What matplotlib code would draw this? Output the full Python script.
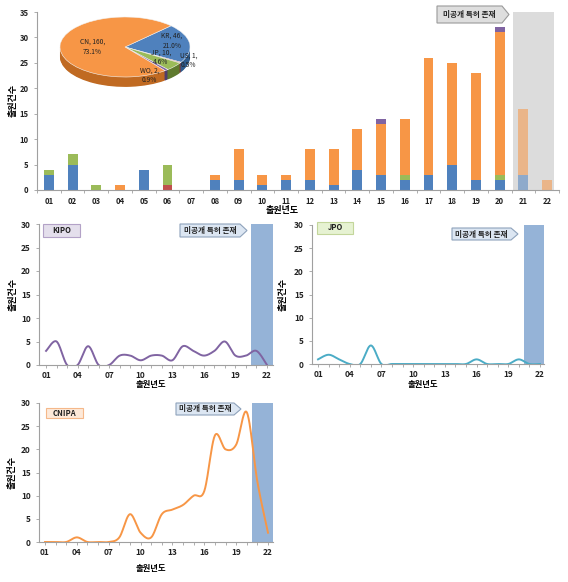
import numpy as np
import matplotlib.pyplot as plt
from matplotlib.patches import Polygon, Rectangle

plt.rcParams['font.family'] = ['Noto Sans CJK KR', 'DejaVu Sans']

# ── data ────────────────────────────────────────────────────────────────
years = ['01', '02', '03', '04', '05', '06', '07', '08', '09', '10', '11',
         '12', '13', '14', '15', '16', '17', '18', '19', '20', '21', '22']
kr = [3, 5, 0, 0, 4, 0, 0, 2, 2, 1, 2, 2, 1, 4, 3, 2, 3, 5, 2, 2, 3, 0]
us = [0, 0, 0, 0, 0, 1, 0, 0, 0, 0, 0, 0, 0, 0, 0, 0, 0, 0, 0, 0, 0, 0]
jp = [1, 2, 1, 0, 0, 4, 0, 0, 0, 0, 0, 0, 0, 0, 0, 1, 0, 0, 0, 1, 0, 0]
cn = [0, 0, 0, 1, 0, 0, 0, 1, 6, 2, 1, 6, 7, 8, 10, 11, 23, 20, 21, 28, 13, 2]
wo = [0, 0, 0, 0, 0, 0, 0, 0, 0, 0, 0, 0, 0, 0, 1, 0, 0, 0, 0, 1, 0, 0]

series = [('KR', kr, '#4f81bd'), ('US', us, '#c0504d'), ('JP', jp, '#9bbb59'),
          ('CN', cn, '#f79646'), ('WO', wo, '#8064a2')]

callout_text = '미공개 특허 존재'
W, H = 568, 582


def fx(px):
    return px / W


def fy(py):
    return 1 - py / H


fig = plt.figure(figsize=(W / 100, H / 100), dpi=100)


def callout(x0, y0, x1, y1, face, edge):
    tip = 7
    pts = [(fx(x0), fy(y0)), (fx(x1 - tip), fy(y0)), (fx(x1), fy((y0 + y1) / 2)),
           (fx(x1 - tip), fy(y1)), (fx(x0), fy(y1))]
    fig.add_artist(Polygon(pts, closed=True, transform=fig.transFigure,
                           facecolor=face, edgecolor=edge, linewidth=0.8, zorder=10))
    fig.text(fx((x0 + x1 - tip) / 2), fy((y0 + y1) / 2), callout_text, ha='center',
             va='center', fontsize=5.5, fontweight='bold', color='#222222', zorder=11)


def label_box(x0, y0, x1, y1, text, face, edge):
    fig.add_artist(Rectangle((fx(x0), fy(y1)), fx(x1) - fx(x0), fy(y0) - fy(y1),
                             transform=fig.transFigure, facecolor=face,
                             edgecolor=edge, linewidth=0.8, zorder=10))
    fig.text(fx((x0 + x1) / 2), fy((y0 + y1) / 2), text, ha='center', va='center',
             fontsize=5.5, fontweight='bold', color='#222222', zorder=11)


def style_axes(ax):
    for s in ['top', 'right']:
        ax.spines[s].set_visible(False)
    for s in ['left', 'bottom']:
        ax.spines[s].set_color('#a0a0a0')
        ax.spines[s].set_linewidth(0.8)
    ax.tick_params(colors='#a0a0a0', labelcolor='#222222', length=2.5, width=0.6)


# ── top stacked bars ────────────────────────────────────────────────────
ax = fig.add_axes([fx(37), fy(190), fx(522), 178 / H])
x = np.arange(len(years))
bottom = np.zeros(len(years))
for name, vals, col in series:
    v = np.array(vals, dtype=float)
    ax.bar(x[:20], v[:20], 0.42, bottom=bottom[:20], color=col, linewidth=0, zorder=2)
    ax.bar(x[20:], v[20:], 0.42, bottom=bottom[20:], color=col, alpha=0.55,
           linewidth=0, zorder=2)
    bottom += v
ax.axvspan(19.55, 21.3, color='#dcdcdc', zorder=0, linewidth=0)
ax.set_xlim(-0.5, 21.5)
ax.set_ylim(0, 35)
ax.set_yticks(range(0, 36, 5))
ax.set_xticks(x)
ax.set_xticklabels(years, fontsize=5.5, fontweight='bold')
ax.set_xticks(np.arange(-0.5, 22, 1), minor=True)
style_axes(ax)
ax.tick_params(axis='x', which='major', length=0, pad=5)
ax.tick_params(axis='x', which='minor', length=2.5, colors='#a0a0a0')
ax.tick_params(axis='y', labelsize=5.5)
for t in ax.get_yticklabels():
    t.set_fontweight('bold')
fig.text(fx(13), fy(100), '출원건수', rotation=90, ha='center', va='center',
         fontsize=6.5, fontweight='bold')
fig.text(fx(282), fy(211), '출원년도', ha='center', va='center', fontsize=6.5,
         fontweight='bold')
callout(437, 6, 509, 23, '#dedede', '#9a9a9a')

# ── pseudo 3D pie ───────────────────────────────────────────────────────
pie_vals = [sum(kr), sum(us), sum(jp), sum(wo), sum(cn)]
pie_names = ['KR', 'US', 'JP', 'WO', 'CN']
pie_cols = ['#4f81bd', '#c0504d', '#9bbb59', '#8064a2', '#f79646']
side_cols = ['#2f5b8c', '#8c3230', '#5f7a2e', '#4f3c6e', '#c06a22']
pax = fig.add_axes([fx(55), fy(95), fx(140), 85 / H])
for d in np.linspace(0.33, 0.02, 14):
    pax.pie(pie_vals, colors=side_cols, startangle=45, counterclock=False,
            center=(0, -d), wedgeprops=dict(linewidth=0))
pax.pie(pie_vals, colors=pie_cols, startangle=45, counterclock=False,
        wedgeprops=dict(linewidth=0.4, edgecolor='#f4f4f4'))
pax.set_aspect('auto')
pax.set_xlim(-1.077, 1.077)
pax.set_ylim(-1.6, 1.233)
pax.axis('off')
total = sum(pie_vals)
pie_pos = {'CN': (-0.5, 0.0), 'KR': (0.72, 0.2), 'JP': (0.55, -0.35),
           'US': (0.98, -0.45), 'WO': (0.38, -0.95)}
for name, v in zip(pie_names, pie_vals):
    px_, py_ = pie_pos[name]
    pax.text(px_, py_, f'{name}, {v},\n{v / total * 100:.1f}%', ha='center',
             va='center', fontsize=4.8, color='#222222', linespacing=1.3)

# ── line charts ─────────────────────────────────────────────────────────
def catmull(xs, ys, n=24):
    xs = np.asarray(xs, float)
    ys = np.asarray(ys, float)
    px_ = np.concatenate([[xs[0]], xs, [xs[-1]]])
    py_ = np.concatenate([[ys[0]], ys, [ys[-1]]])
    t = np.linspace(0, 1, n)
    h00 = 2 * t**3 - 3 * t**2 + 1
    h10 = t**3 - 2 * t**2 + t
    h01 = -2 * t**3 + 3 * t**2
    h11 = t**3 - t**2
    ox, oy = [], []
    for i in range(1, len(xs)):
        mx1 = (px_[i + 1] - px_[i - 1]) / 2
        mx2 = (px_[i + 2] - px_[i]) / 2
        my1 = (py_[i + 1] - py_[i - 1]) / 2
        my2 = (py_[i + 2] - py_[i]) / 2
        ox.append(h00 * px_[i] + h10 * mx1 + h01 * px_[i + 1] + h11 * mx2)
        oy.append(h00 * py_[i] + h10 * my1 + h01 * py_[i + 1] + h11 * my2)
    return np.concatenate(ox), np.concatenate(oy)


yr = np.arange(1, 23)
panels = [
    ('KIPO', kr, '#8064a2', (39, 224, 234, 365), (0.33, 22.57),
     (43, 224, 80, 237, '#e4dfec', '#b3a2c7'), (180, 224, 247, 237), 13, 384),
    ('JPO', jp, '#4bacc6', (312, 225, 232, 364), (0.43, 22.38),
     (317, 222, 353, 234, '#e6f2d2', '#c3d69b'), (452, 228, 518, 240), 283, 384),
    ('CNIPA', cn, '#f79646', (39, 403, 234, 542), (0.435, 22.47),
     (46, 408, 83, 418, '#fde9d9', '#f5b88a'), (176, 403, 241, 415), 12, 569),
]
for name, vals, col, (l, t, w, b), xl, box, co, ylx, xly in panels:
    lax = fig.add_axes([fx(l), fy(b), fx(w), (b - t) / H])
    lax.axvspan(20.5, xl[1], color='#95b3d7', linewidth=0, zorder=0)
    sx, sy = catmull(yr, vals)
    lax.plot(sx, sy, color=col, linewidth=1.4, zorder=3)
    lax.set_xlim(*xl)
    lax.set_ylim(0, 30)
    lax.set_yticks(range(0, 31, 5))
    lax.set_xticks(yr, minor=True)
    lax.set_xticks(yr[::3])
    lax.set_xticklabels([years[i] for i in range(0, 22, 3)], fontsize=6,
                        fontweight='bold')
    style_axes(lax)
    lax.tick_params(axis='x', which='major', pad=2)
    lax.tick_params(axis='x', which='minor', length=2, colors='#a0a0a0')
    lax.tick_params(axis='y', labelsize=6)
    for tl in lax.get_yticklabels():
        tl.set_fontweight('bold')
    fig.text(fx(ylx), fy((t + b) / 2), '출원건수', rotation=90, ha='center',
             va='center', fontsize=6.5, fontweight='bold')
    fig.text(fx(l + w / 2 - 5), fy(xly), '출원년도', ha='center', va='center',
             fontsize=6, fontweight='bold')
    label_box(box[0], box[1], box[2], box[3], name, box[4], box[5])
    callout(co[0], co[1], co[2], co[3], '#dce6f2', '#8ea2bb')

fig.savefig('out.png', dpi=100)
